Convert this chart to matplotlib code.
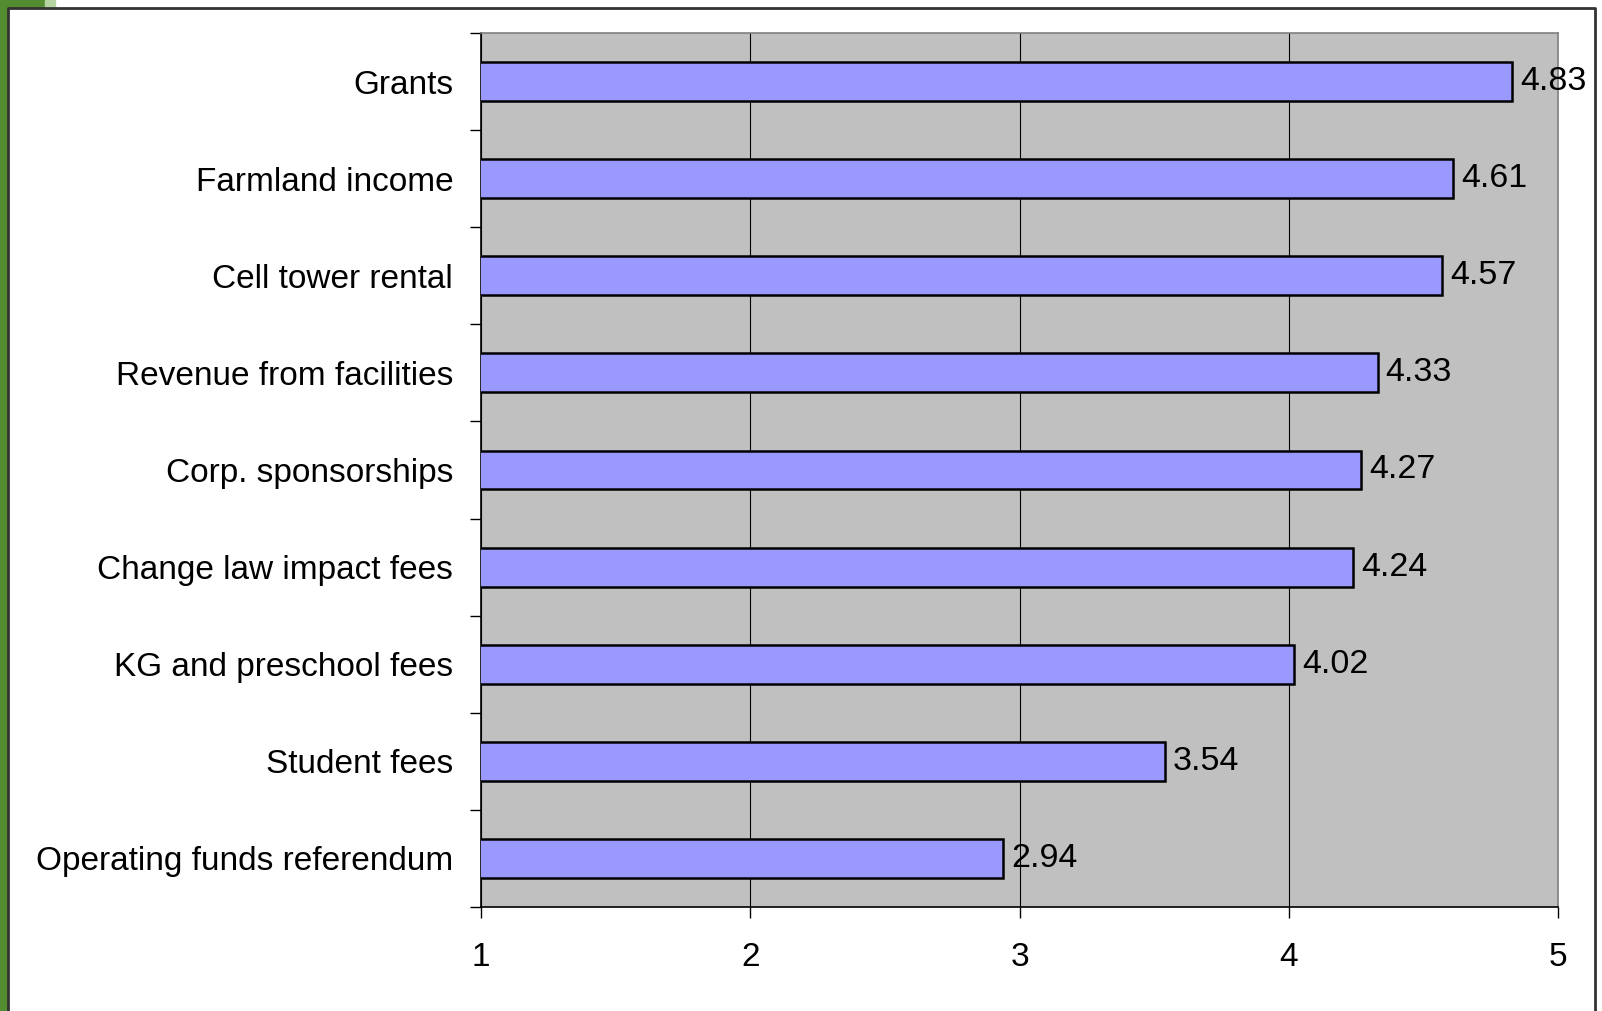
import matplotlib
matplotlib.use("Agg")
import matplotlib.pyplot as plt
from matplotlib.patches import Rectangle

categories = ["Grants", "Farmland income", "Cell tower rental", "Revenue from facilities",
              "Corp. sponsorships", "Change law impact fees", "KG and preschool fees",
              "Student fees", "Operating funds referendum"]
values = [4.83, 4.61, 4.57, 4.33, 4.27, 4.24, 4.02, 3.54, 2.94]
x_ticks = [1, 2, 3, 4, 5]

plt.rcParams["font.family"] = ["Liberation Sans", "DejaVu Sans"]

W, H = 1602, 1011
fig = plt.figure(figsize=(W / 100, H / 100), dpi=100)

# slide decoration: green strip and frame
fig.patches.append(Rectangle((0, 0), 7 / W, 1, transform=fig.transFigure,
                             color="#548d31", zorder=0))
fig.patches.append(Rectangle((0, 1 - 7 / H), 45 / W, 7 / H, transform=fig.transFigure,
                             color="#548d31", zorder=0))
fig.patches.append(Rectangle((45 / W, 1 - 7 / H), 10 / W, 7 / H, transform=fig.transFigure,
                             color="#b5d3a3", zorder=0))
fig.lines.append(plt.Line2D([7.5 / W, 7.5 / W, 1594.5 / W, 1594.5 / W],
                            [0, 1 - 7.5 / H, 1 - 7.5 / H, 0],
                            transform=fig.transFigure, color="#333333", lw=2))

ax = fig.add_axes([481 / W, 1 - 907 / H, (1558 - 481) / W, (907 - 33) / H])
ax.set_facecolor("#c0c0c0")

y = list(range(len(categories)))
ax.barh(y, values, height=0.4, color="#9999ff", edgecolor="black", linewidth=1.8, zorder=3)
for yi, v in zip(y, values):
    ax.text(v + 0.03, yi, f"{v:.2f}", va="center", ha="left", fontsize=24.5, zorder=4)

ax.set_xlim(1, 5)
ax.set_ylim(len(categories) - 0.5, -0.5)
ax.set_xticks(x_ticks)
ax.set_xticklabels([str(t) for t in x_ticks], fontsize=24)
ax.set_yticks(y)
ax.set_yticklabels(categories, fontsize=24)
ax.set_yticks([i - 0.5 for i in range(len(categories) + 1)], minor=True)
ax.tick_params(axis="y", which="major", length=0, pad=20)
ax.tick_params(axis="y", which="minor", length=8, width=1, direction="out")
ax.tick_params(axis="x", length=8, width=1, direction="out", pad=17)

ax.grid(axis="x", color="black", linewidth=0.8, zorder=1)
ax.set_axisbelow(True)
ax.spines["left"].set_color("black")
ax.spines["bottom"].set_color("black")
ax.spines["top"].set_color("#808080")
ax.spines["right"].set_color("#808080")
for s in ax.spines.values():
    s.set_linewidth(1.2)

fig.savefig("out.png", dpi=100)
